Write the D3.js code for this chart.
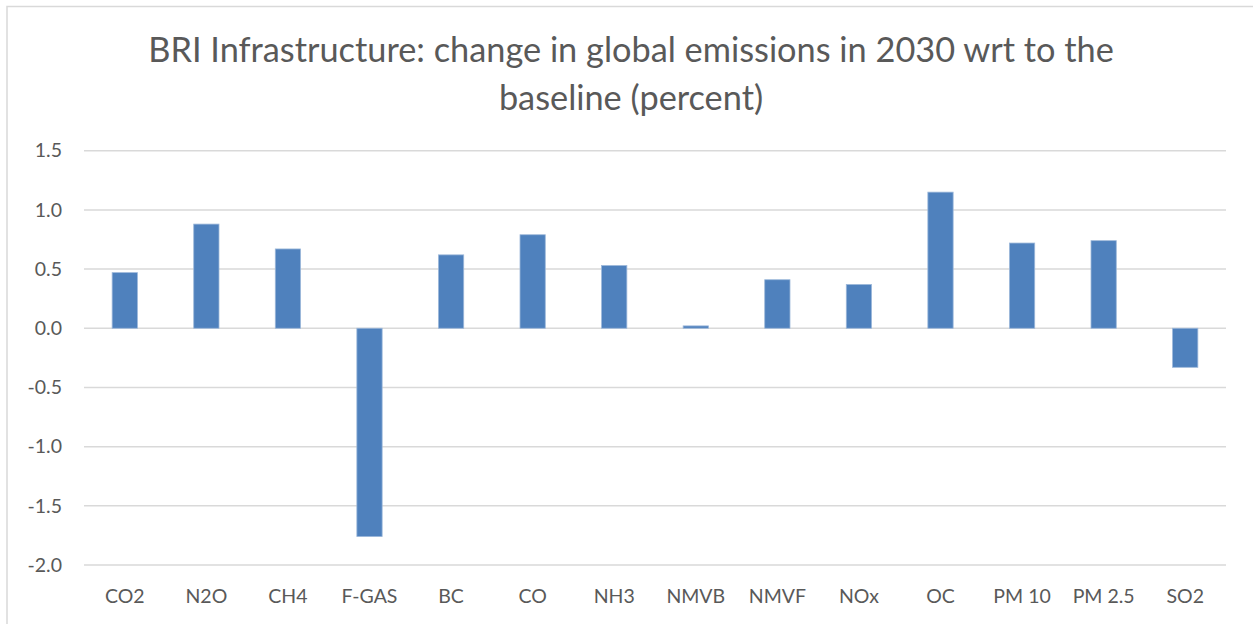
<!DOCTYPE html>
<html>
<head>
<meta charset="utf-8">
<script src="https://cdn.jsdelivr.net/npm/d3@7"></script>
<style>
  body { margin: 0; background: #fff; }
  text { font-family: Lato, "Open Sans", sans-serif; fill: #595959; }
</style>
</head>
<body>
<script>
var categories = ["CO2", "N2O", "CH4", "F-GAS", "BC", "CO", "NH3", "NMVB", "NMVF", "NOx", "OC", "PM 10", "PM 2.5", "SO2"];
var values = [0.47, 0.88, 0.67, -1.76, 0.62, 0.79, 0.53, 0.02, 0.41, 0.37, 1.15, 0.72, 0.74, -0.33];
var yTicks = [-2.0, -1.5, -1.0, -0.5, 0.0, 0.5, 1.0, 1.5];
var titleLines = ["BRI Infrastructure: change in global emissions in 2030 wrt to the", "baseline (percent)"];

var W = 1253, H = 624;
var svg = d3.select("body").append("svg")
    .attr("width", W)
    .attr("height", H);

// chart frame
svg.append("rect")
    .attr("x", 7).attr("y", 6.5)
    .attr("width", W).attr("height", H)
    .attr("fill", "#fff")
    .attr("stroke", "#d9d9d9")
    .attr("stroke-width", 1.5);

var xScale = d3.scaleBand()
    .domain(categories)
    .range([84, 1226])
    .paddingInner(0.69)
    .paddingOuter(0.345);

var yScale = d3.scaleLinear().domain([-2, 1.5]).range([565, 150.7]);

var fmt = function(d) { return d3.format(".1f")(d).replace("\u2212", "-"); };

// gridlines
svg.append("g").selectAll("line")
    .data(yTicks)
    .enter().append("line")
    .attr("x1", 84).attr("x2", 1226)
    .attr("y1", function(d) { return yScale(d); })
    .attr("y2", function(d) { return yScale(d); })
    .attr("stroke", "#d9d9d9")
    .attr("stroke-width", 1.5);

// y axis labels
var yAxis = d3.axisLeft(yScale).tickValues(yTicks).tickFormat(fmt).tickSize(0).tickPadding(0);
var gy = svg.append("g").attr("transform", "translate(62,0)").call(yAxis);
gy.select(".domain").remove();
gy.selectAll("text")
    .attr("font-size", "19.5px")
    .style("font-family", "Lato, sans-serif")
    .attr("fill", "#595959");

// bars
svg.append("g").selectAll("rect")
    .data(values)
    .enter().append("rect")
    .attr("x", function(d, i) { return xScale(categories[i]); })
    .attr("y", function(d) { return yScale(Math.max(0, d)); })
    .attr("width", xScale.bandwidth())
    .attr("height", function(d) { return Math.abs(yScale(d) - yScale(0)); })
    .attr("fill", "#4f81bd")
    .attr("stroke", "#9db8da")
    .attr("stroke-width", 0.8);

// x axis labels
var xAxis = d3.axisBottom(xScale).tickSize(0).tickPadding(0);
var gx = svg.append("g").attr("transform", "translate(0,603)").call(xAxis);
gx.select(".domain").remove();
gx.selectAll("text")
    .attr("dy", 0)
    .attr("font-size", "19.5px")
    .style("font-family", "Lato, sans-serif")
    .attr("fill", "#595959");

// title
var title = svg.append("g").selectAll("text")
    .data(titleLines)
    .enter().append("text")
    .attr("x", 631)
    .attr("y", function(d, i) { return 62 + i * 48; })
    .attr("text-anchor", "middle")
    .attr("font-size", "31px")
    .text(function(d) { return d; });

// fit the first line to the reference width
var w0 = title.nodes()[0].getComputedTextLength();
var fs = 31 * 966 / w0;
title.attr("font-size", fs + "px");
</script>
</body>
</html>
